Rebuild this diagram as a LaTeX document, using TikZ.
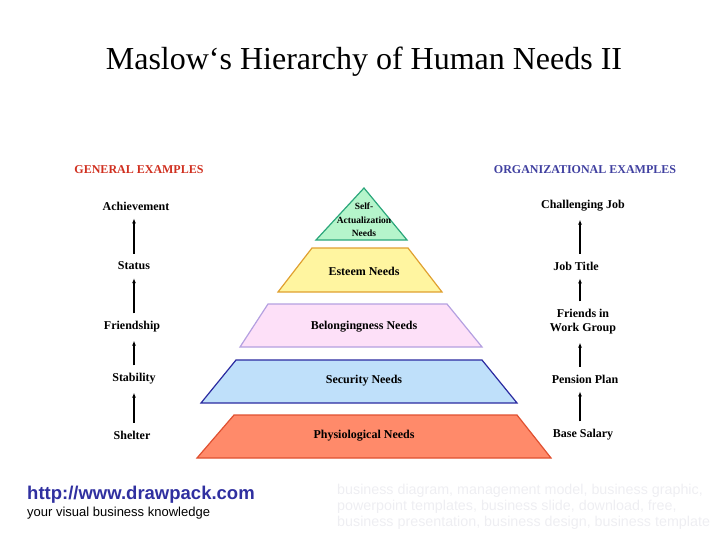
\documentclass[tikz,border=0pt]{standalone}
\usepackage{fontspec}
\setmainfont{Liberation Serif}
\newfontfamily\sansf{Liberation Sans}
\usetikzlibrary{arrows.meta}
\definecolor{gC}{HTML}{B5F5CB}\definecolor{gD}{HTML}{2AA67A}
\definecolor{yC}{HTML}{FFF5A0}\definecolor{yD}{HTML}{E0A030}
\definecolor{pC}{HTML}{FDE0F8}\definecolor{pD}{HTML}{B4A0E0}
\definecolor{bC}{HTML}{BFE0FA}\definecolor{bD}{HTML}{2A2AA0}
\definecolor{rC}{HTML}{FF8A6A}\definecolor{rD}{HTML}{E05030}
\definecolor{hR}{HTML}{D03020}\definecolor{hB}{HTML}{4040A0}
\definecolor{lnk}{HTML}{3030A0}\definecolor{wm}{HTML}{EEEEF2}
\tikzset{x=1pt,y=-1pt,
 lvl/.style={line width=1.2pt,line join=miter},
 lab/.style={font=\bfseries\fontsize{12}{13}\selectfont,align=center},
 ex/.style={font=\bfseries\fontsize{12}{14}\selectfont,align=center,inner sep=1pt},
 up/.style={-{Latex[length=5pt,width=4pt]},line width=1.3pt,shorten <=7pt,shorten >=7pt}}
\begin{document}
\begin{tikzpicture}
\useasboundingbox (0,0) rectangle (728,546);
\node[font=\fontsize{32}{36}\selectfont] (title) at (364,62) {Maslow‘s Hierarchy of Human Needs II};
\draw[lvl,fill=gC,draw=gD] (364,188) -- (407,240) -- (316,240) -- cycle;
\draw[lvl,fill=yC,draw=yD] (312,248) -- (408,248) -- (442,292) -- (278,292) -- cycle;
\draw[lvl,fill=pC,draw=pD] (268,304) -- (447,304) -- (482,347) -- (240,347) -- cycle;
\draw[lvl,fill=bC,draw=bD] (236,360) -- (482,360) -- (517,403) -- (201,403) -- cycle;
\draw[lvl,fill=rC,draw=rD] (234,415) -- (517,415) -- (551,458) -- (197,458) -- cycle;
\node[lab,font=\bfseries\fontsize{9.5}{13.5}\selectfont] (sa) at (364,220) {Self-\\Actualization\\Needs};
\node[lab] (es) at (364,271) {Esteem Needs};
\node[lab] (be) at (364,327) {Belongingness Needs};
\node[lab] (se) at (364,381) {Security Needs};
\node[lab] (ph) at (364,436) {Physiological Needs};
\node[ex,text=hR] (gh) at (139,170) {GENERAL EXAMPLES};
\node[ex,text=hB] (oh) at (585,170) {ORGANIZATIONAL EXAMPLES};
\node[ex] (l1) at (136,206) {Achievement};
\node[ex] (l2) at (134,266) {Status};
\node[ex] (l3) at (132,327) {Friendship};
\node[ex] (l4) at (134,379) {Stability};
\node[ex] (l5) at (132,435) {Shelter};
\node[ex] (r1) at (583,206) {Challenging Job};
\node[ex] (r2) at (576,266) {Job Title};
\node[ex] (r3) at (583,322) {Friends in\\Work Group};
\node[ex] (r4) at (585,379) {Pension Plan};
\node[ex] (r5) at (583,435) {Base Salary};
\foreach \a/\b in {l2/l1,l3/l2,l4/l3,l5/l4}{\draw[up] (\a.north -| 134,0) -- (\b.south -| 134,0);}
\foreach \a/\b in {r2/r1,r3/r2,r4/r3,r5/r4}{\draw[up] (\a.north -| 580,0) -- (\b.south -| 580,0);}
\node[anchor=west,inner sep=0,text=lnk,font=\sansf\bfseries\fontsize{18.5}{20}\selectfont] (url) at (27,495) {http://www.drawpack.com};
\node[anchor=west,inner sep=0,font=\sansf\fontsize{13}{15}\selectfont] (tag) at (27,513) {your visual business knowledge};
\node[anchor=north west,inner sep=0,text=wm,align=left,font=\sansf\fontsize{14.3}{16}\selectfont] (wmk) at (337,484) {business diagram, management model, business graphic,\\powerpoint templates, business slide, download, free,\\business presentation, business design, business template};
\end{tikzpicture}
\end{document}
